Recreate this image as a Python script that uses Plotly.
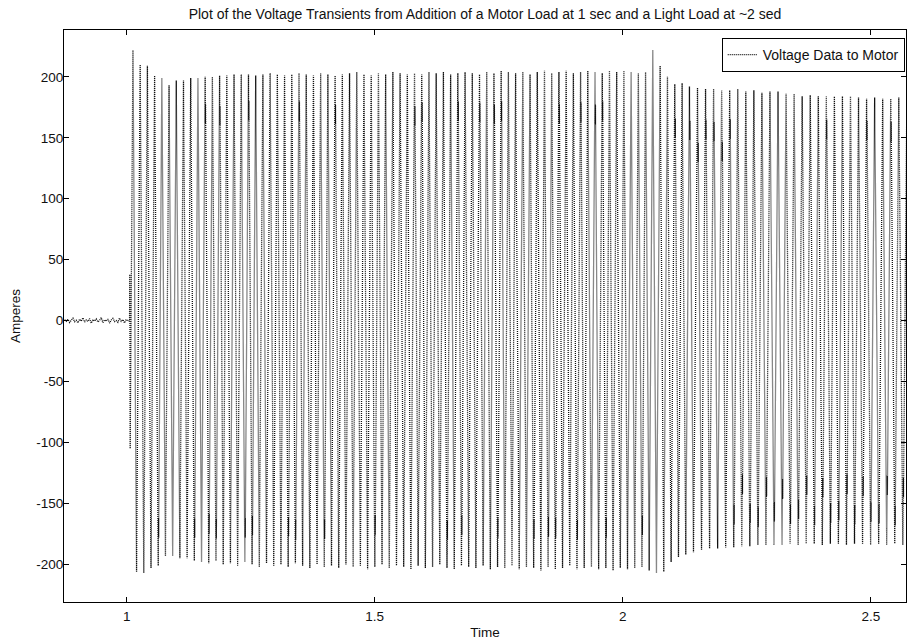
import plotly.graph_objects as go

# ---------------- text ----------------
title_text = "Plot of the Voltage Transients from Addition of a Motor Load at 1 sec and a Light Load at ~2 sed"
x_label = "Time"
y_label = "Amperes"
series_name = "Voltage Data to Motor"

x_tick_vals = [1, 1.5, 2, 2.5]
x_tick_text = ["1", "1.5", "2", "2.5"]
y_tick_vals = [-200, -150, -100, -50, 0, 50, 100, 150, 200]
y_tick_text = ["-200", "-150", "-100", "-50", "0", "50", "100", "150", "200"]

# ---------------- data ----------------
# idle (no load) current before the motor starts
idle_start = 0.875
idle_end = 1.0058
idle_values = [0.8, -0.6, 1.2, -1.5, 0.4, 2.0, -0.9, 0.3, -1.8, 1.1,
               -0.4, 2.3, -1.2, 0.6, -0.7, 1.6, -2.1, 0.9, -0.3, 1.4,
               -1.1, 0.2, 2.4, -1.6, 0.7, -0.5, 1.3, -2.0, 0.5, 1.9,
               -0.8, 0.1, -1.4, 2.1, -0.6, 0.9, -1.9, 1.0, -0.2, 0.0]

# switching onset
onset_times = [1.0064, 1.0071]
onset_values = [38, -105]

# cycle timing (first positive peak, then cycles per segment and their period)
first_peak_time = 1.0127
segment_cycles = [72, 5, 27]
segment_periods = [0.014554, 0.01478, 0.01623]

# positive peak of every cycle
pos_peaks = [222, 210, 209, 201, 199, 193, 197, 197, 199,
             199, 200, 200, 201, 201, 202, 202, 202, 201, 202,
             203, 202, 201, 202, 203, 202, 201, 203, 202, 201,
             202, 203, 204, 202, 201, 203, 202, 204, 203, 202,
             203, 202, 204, 203, 204, 202, 203, 204, 203, 202,
             204, 203, 205, 204, 203, 204, 202, 204, 205, 203,
             204, 205, 203, 204, 205, 204, 203, 205, 204, 205,
             204, 203, 204,
             222,
             209, 200, 194, 195, 192, 191, 190, 190, 189, 189,
             190, 188, 189, 187, 188, 188, 186, 186, 184, 185,
             184, 184, 184, 184, 184, 183, 182, 183, 182, 182,
             183, 181]

# negative peak following every positive peak
neg_peaks = [-206, -207, -203, -201, -193, -193, -195, -195, -197,
             -198, -199, -197, -200, -199, -201, -198, -200, -202, -199,
             -201, -200, -202, -199, -201, -203, -200, -202, -201, -203,
             -200, -202, -201, -204, -202, -200, -203, -201, -202, -204,
             -201, -203, -202, -200, -203, -204, -201, -202, -203, -201,
             -204, -202, -203, -201, -204, -202, -203, -205, -202, -204,
             -203, -201, -204, -203, -202, -204, -203, -205, -203, -204,
             -203, -202, -205,
             -207,
             -206, -198, -194, -192, -190, -188, -187, -187, -186, -186,
             -185, -185, -184, -184, -184, -184, -183, -184, -183, -183,
             -184, -183, -183, -184, -183, -183, -184, -183, -184, -183,
             -184, -184]

# level of the dark (dense) stretch on each falling edge
pos_marks = [170, 177, 161, 155, 150, 131, 168, 172, 165, 140,
             170, 138, 168, 171, 136, 165, 172, 140, 168, 137,
             171, 166, 139, 172, 168, 135, 170, 141, 169, 172,
             138, 167, 171, 136, 170, 169, 139, 172, 137, 168,
             171, 140, 166, 170, 138, 172, 168, 136, 171, 139,
             169, 172, 137, 168, 170, 141, 167, 172, 138, 170,
             168, 136, 171, 139, 169, 172, 137, 168, 171, 140,
             170, 138, 172, 150, 145, 158, 140, 156, 138, 157,
             155, 139, 157, 140, 156, 154, 138, 157, 141, 155,
             156, 137, 154, 140, 157, 155, 138, 153, 139, 156,
             154, 140, 155, 138, 153]

# level of the dark (dense) stretch on each rising edge
neg_marks = [-150, -160, -145, -170, -165, -140, -168, -138, -170, -137,
             -167, -171, -139, -166, -138, -170, -168, -136, -171, -140,
             -138, -169, -172, -137, -168, -139, -171, -136, -167, -170,
             -139, -172, -138, -168, -170, -137, -169, -141, -171, -138,
             -166, -170, -139, -172, -137, -168, -171, -140, -169, -136,
             -170, -138, -172, -167, -139, -171, -137, -169, -170, -138,
             -168, -172, -140, -167, -136, -170, -169, -139, -171, -137,
             -168, -140, -172, -160, -136, -158, -138, -157, -135, -160,
             -156, -137, -159, -134, -158, -161, -136, -157, -138, -159,
             -155, -135, -160, -137, -158, -156, -134, -159, -136, -157,
             -158, -135, -160, -137, -156]

# ---------------- build the trace ----------------
mark_half = 8.0     # vertical half-extent of a dense stretch
mark_dt = 0.0005    # small time step used inside a dense stretch

xs, ys = [], []
n_idle = len(idle_values)
for i, v in enumerate(idle_values):
    xs.append(idle_start + (idle_end - idle_start) * i / (n_idle - 1))
    ys.append(v)
xs += onset_times
ys += onset_values

peak_times = [first_peak_time]
periods = []
t = first_peak_time
for n, T in zip(segment_cycles, segment_periods):
    for _ in range(n):
        periods.append(T)
        t += T
        peak_times.append(t)
periods.append(segment_periods[-1])

n_cycles = min(len(peak_times), len(pos_peaks), len(neg_peaks), len(pos_marks), len(neg_marks))
for k in range(n_cycles):
    tp = peak_times[k]
    T = periods[k]
    P = pos_peaks[k]
    N = neg_peaks[k]
    tn = tp + T / 2
    xs.append(tp); ys.append(P)
    M = pos_marks[k]
    tm = tp + (P - M) / (P - N) * (T / 2)
    xs += [tm - mark_dt / 2, tm, tm + mark_dt / 2]
    ys += [M + mark_half, M - mark_half, M + mark_half]
    xs.append(tn); ys.append(N)
    Pn = pos_peaks[k + 1] if k + 1 < len(pos_peaks) else P
    Mn = neg_marks[k]
    tm2 = tn + (Mn - N) / (Pn - N) * (T / 2)
    xs += [tm2 - mark_dt / 2, tm2, tm2 + mark_dt / 2]
    ys += [Mn - mark_half, Mn + mark_half, Mn - mark_half]

fig = go.Figure()
fig.add_trace(go.Scatter(
    x=xs, y=ys, mode="lines", name=series_name,
    line=dict(color="#111111", width=1.3, dash="1px,1px"),
    showlegend=True,
))

font_family = "Liberation Sans, Arial, sans-serif"
axis_common = dict(
    showline=True, linecolor="black", linewidth=1, mirror="ticks",
    ticks="inside", ticklen=5, tickcolor="black", tickwidth=1,
    showgrid=False, zeroline=False,
    tickfont=dict(family=font_family, size=13.5, color="#111111"),
)

fig.update_layout(
    width=907, height=644, autosize=False,
    paper_bgcolor="white", plot_bgcolor="white",
    margin=dict(l=64, r=1, t=30, b=42),
    font=dict(family=font_family, size=13, color="#111111"),
    title=dict(text=title_text, x=0.5, xref="paper", xanchor="center",
               y=1 - 14 / 644, yref="container", yanchor="middle",
               font=dict(family=font_family, size=14, color="#111111")),
    xaxis=dict(range=[0.8737, 2.571], tickvals=x_tick_vals, ticktext=x_tick_text,
               ticklabelstandoff=2,
               title=dict(text=x_label, standoff=4,
                          font=dict(family=font_family, size=13.5)),
               **axis_common),
    yaxis=dict(range=[-230.8, 238.4], tickvals=y_tick_vals, ticktext=y_tick_text,
               ticklabelstandoff=-3,
               title=dict(text=y_label, standoff=12,
                          font=dict(family=font_family, size=13.5)),
               **axis_common),
    legend=dict(x=0.9985, y=0.986, xanchor="right", yanchor="top",
                bgcolor="white", bordercolor="black", borderwidth=1,
                font=dict(family=font_family, size=14, color="#111111"),
                itemwidth=30, tracegroupgap=0),
    showlegend=True,
)

fig.write_html("out.html", config={"displayModeBar": False},
               post_script="document.body.style.margin='0';")
